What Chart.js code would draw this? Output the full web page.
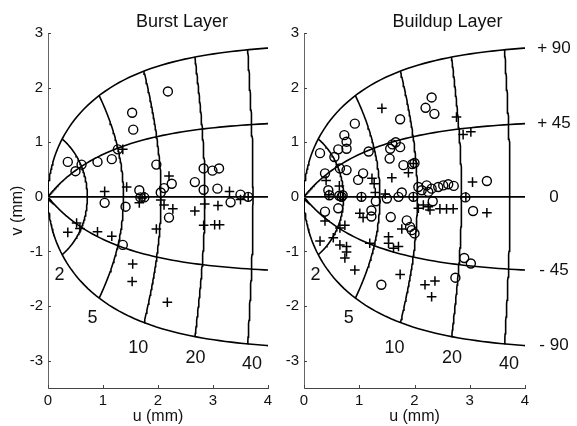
<!DOCTYPE html>
<html>
<head>
<meta charset="utf-8">
<style>
  html, body { margin: 0; padding: 0; background: #fff; }
  #wrap { position: relative; width: 577px; height: 426px; }
  canvas { position: absolute; top: 0; }
</style>
</head>
<body>
<div id="wrap">
  <canvas id="burstChart" width="290" height="426" style="left:0px"></canvas>
  <canvas id="buildupChart" width="322" height="426" style="left:255px"></canvas>
</div>

<script src="https://cdn.jsdelivr.net/npm/chart.js"></script>
<script>
  // axis ticks
  const xTicks = [0, 1, 2, 3, 4];
  const yTicks = [-3, -2, -1, 0, 1, 2, 3];

  // collicular map grid: saccade amplitude (deg) and direction (deg)
  const amplitudes = [2, 5, 10, 20, 40];
  const directions = [-90, -45, 0, 45, 90];
  const ampLabels = ['2', '5', '10', '20', '40'];
  const ampLabelPos = [[0.21, -1.43], [0.81, -2.22], [1.64, -2.76], [2.68, -2.96], [3.71, -3.06]];
  const dirLabels = ['- 90', '- 45', '0', '+ 45', '+ 90'];

  // Burst layer sites [u, v] (mm)
  const burstCircles = [
    [2.18, 1.93], [1.53, 1.54], [1.55, 1.23],
    [0.36, 0.64], [0.50, 0.47], [0.61, 0.59], [0.90, 0.64], [1.16, 0.69], [1.27, 0.87],
    [1.97, 0.59], [2.11, 0.16], [2.25, 0.24], [2.05, 0.08], [1.66, 0.12], [1.68, -0.01], [1.75, -0.01],
    [1.03, -0.11], [1.41, -0.18], [2.20, -0.38],
    [2.67, 0.27], [2.83, 0.52], [2.99, 0.48], [3.11, 0.52], [2.83, 0.13], [3.08, 0.15],
    [3.32, -0.10], [3.50, 0.04], [3.64, 0.00],
    [1.36, -0.88]
  ];
  const burstCrosses = [
    [1.36, 0.87], [2.20, 0.38], [1.03, 0.10], [1.43, 0.18], [1.66, -0.11], [1.71, -0.02], [1.76, 0.00],
    [2.05, -0.06], [2.11, -0.15], [2.27, -0.22], [1.97, -0.59], [2.67, -0.26], [2.85, -0.13], [3.09, -0.16],
    [2.83, -0.52], [3.03, -0.51], [3.12, -0.51], [3.30, 0.10], [3.50, -0.05], [3.64, 0.00],
    [0.52, -0.48], [0.36, -0.65], [0.58, -0.58], [0.90, -0.64], [1.16, -0.72],
    [1.54, -1.23], [1.53, -1.55], [2.17, -1.93]
  ];

  // Buildup layer sites [u, v] (mm)
  const buildupCircles = [
    [1.74, 1.42], [2.31, 1.82], [2.20, 1.63], [2.36, 1.52],
    [0.92, 1.34], [0.73, 1.13], [0.77, 1.01], [0.77, 0.88], [0.62, 0.87], [0.29, 0.80], [0.55, 0.73], [1.17, 0.83],
    [0.65, 0.52], [0.77, 0.49], [0.38, 0.43], [1.07, 0.43], [0.98, 0.31],
    [0.44, 0.12], [0.46, 0.03], [0.64, 0.02], [0.68, 0.00], [0.70, 0.03], [1.04, 0.00], [1.50, -0.03],
    [1.71, 0.00], [1.77, 0.08], [1.98, 0.00],
    [1.56, 0.88], [1.60, 0.96], [1.66, 1.00], [1.74, 0.91], [1.55, 0.70], [1.80, 0.58], [1.96, 0.60], [2.00, 0.62],
    [2.07, 0.18], [2.13, 0.12], [2.22, 0.21], [2.25, 0.09], [2.31, 0.15], [2.43, 0.18], [2.52, 0.21], [2.61, 0.23], [2.71, 0.20],
    [2.92, -0.01], [3.31, 0.29], [3.06, -0.26], [2.33, -0.08],
    [0.38, -0.27], [0.62, -0.21], [1.22, -0.25], [1.22, -0.36], [1.30, -0.08], [1.57, -0.37],
    [1.86, -0.43], [1.92, -0.55], [1.95, -0.61], [2.00, -0.67],
    [1.40, -1.61], [2.74, -1.48], [2.90, -1.12], [3.02, -1.22]
  ];
  const buildupCrosses = [
    [1.41, 1.62], [2.76, 1.46], [2.88, 1.14], [3.02, 1.19],
    [0.40, 0.30], [0.64, 0.20], [1.23, 0.34], [1.27, 0.24], [1.29, 0.08], [1.47, 0.05],
    [1.59, 0.35], [1.89, 0.44], [1.98, 0.61], [1.98, 0.00], [1.04, 0.00], [0.66, 0.00], [0.70, 0.00], [0.45, 0.04],
    [3.05, 0.27], [3.31, -0.29], [2.93, 0.00],
    [2.07, -0.21], [2.16, -0.15], [2.25, -0.18], [2.28, -0.24], [2.46, -0.22], [2.58, -0.22], [2.70, -0.22],
    [0.38, -0.44], [0.74, -0.52], [0.65, -0.57], [0.29, -0.81], [0.53, -0.75], [0.65, -0.88], [0.77, -0.91],
    [0.77, -1.01], [0.74, -1.12], [0.92, -1.34], [1.19, -0.85],
    [1.01, -0.30], [1.07, -0.38], [1.77, -0.59], [1.53, -0.73], [1.53, -0.85], [1.71, -0.91], [1.62, -0.94],
    [1.74, -1.42], [2.19, -1.61], [2.37, -1.54], [2.31, -1.83]
  ];

  const FONT = "'Liberation Sans', Arial, sans-serif";

  // log-polar collicular mapping (Ottes et al.)
  const A = 3, BU = 1.4, BV = 1.8;
  function toUV(R, phiDeg) {
    const p = phiDeg * Math.PI / 180;
    const x = R * Math.cos(p) + A, y = R * Math.sin(p);
    return { x: BU * Math.log(Math.sqrt(x * x + y * y) / A), y: BV * Math.atan2(y, x) };
  }

  function lineSet(pts) {
    return {
      data: pts, showLine: true, pointRadius: 0, borderColor: '#000',
      borderWidth: 1.6, tension: 0, fill: false
    };
  }

  function gridSets() {
    const sets = [];
    amplitudes.forEach(R => {
      const pts = [];
      for (let p = -90; p <= 90; p += 2) pts.push(toUV(R, p));
      sets.push(lineSet(pts));
    });
    directions.forEach(d => {
      const pts = [toUV(0, d)];
      for (let k = 0; k < 200; k++) {
        const pt = toUV(0.01 * Math.pow(1.08, k), d);
        pts.push(pt);
        if (pt.x > 4.2) break;
      }
      sets.push(lineSet(pts));
    });
    return sets;
  }

  // v where a direction line leaves the plot at u = 4
  function edgeV(d) {
    let lo = 0, hi = 1000;
    for (let i = 0; i < 60; i++) {
      const mid = (lo + hi) / 2;
      if (toUV(mid, d).x < 4) lo = mid; else hi = mid;
    }
    return toUV(lo, d).y;
  }

  const overlay = {
    id: 'overlay',
    afterDraw(chart, args, opts) {
      const { ctx, chartArea, scales: { x, y } } = chart;
      ctx.save();
      // inward tick marks
      ctx.strokeStyle = '#444';
      ctx.lineWidth = 1;
      ctx.beginPath();
      xTicks.forEach(v => {
        const px = Math.round(x.getPixelForValue(v)) + 0.5;
        ctx.moveTo(px, chartArea.bottom); ctx.lineTo(px, chartArea.bottom - 3);
      });
      yTicks.forEach(v => {
        const py = Math.round(y.getPixelForValue(v)) + 0.5;
        ctx.moveTo(chartArea.left, py); ctx.lineTo(chartArea.left + 3, py);
      });
      ctx.stroke();

      ctx.fillStyle = '#111';
      ctx.textAlign = 'center';
      ctx.textBaseline = 'middle';
      ctx.font = '18px ' + FONT;
      ctx.fillText(opts.title, opts.titleX, 22.5);

      ampLabels.forEach((t, i) => {
        ctx.fillText(t, x.getPixelForValue(ampLabelPos[i][0]), y.getPixelForValue(ampLabelPos[i][1]));
      });

      if (opts.dirLabels) {
        ctx.font = '17px ' + FONT;
        directions.forEach((d, i) => {
          ctx.fillText(dirLabels[i], chartArea.right + 29, y.getPixelForValue(edgeV(d)));
        });
      }
      ctx.restore();
    }
  };

  function makeChart(id, circles, crosses, cfg) {
    const ticksFont = { family: FONT, size: 15 };
    return new Chart(document.getElementById(id), {
      type: 'scatter',
      data: {
        datasets: [
          ...gridSets(),
          {
            data: circles.map(([u, v]) => ({ x: u, y: v })),
            pointStyle: 'circle', pointRadius: 4.5, borderWidth: 1.4,
            borderColor: '#000', backgroundColor: 'rgba(0,0,0,0)'
          },
          {
            data: crosses.map(([u, v]) => ({ x: u, y: v })),
            pointStyle: 'cross', pointRadius: 4.8, borderWidth: 1.5,
            borderColor: '#000', backgroundColor: '#000'
          }
        ]
      },
      options: {
        responsive: false,
        animation: false,
        events: [],
        layout: { padding: { top: 33, right: cfg.padRight, bottom: 0, left: 0 } },
        plugins: {
          legend: { display: false },
          tooltip: { enabled: false },
          overlay: { title: cfg.title, titleX: cfg.titleX, dirLabels: cfg.dirLabels }
        },
        scales: {
          x: {
            type: 'linear', min: 0, max: 4,
            grid: { display: false, drawTicks: false },
            border: { display: true, color: '#444', width: 1 },
            ticks: { font: ticksFont, color: '#111', padding: 4 },
            title: { display: true, text: 'u (mm)', font: { family: FONT, size: 16 }, color: '#111', padding: { top: 0, bottom: 0 } },
            afterBuildTicks: s => { s.ticks = xTicks.map(v => ({ value: v })); },
            afterFit: s => { s.height = 38; }
          },
          y: {
            type: 'linear', min: -3.5, max: 3,
            grid: { display: false, drawTicks: false },
            border: { display: true, color: '#666', width: 1 },
            ticks: { font: ticksFont, color: '#111', padding: 5 },
            title: { display: cfg.yTitle, text: 'v (mm)', font: { family: FONT, size: 16 }, color: '#111', padding: { top: 8, bottom: 0 } },
            afterBuildTicks: s => { s.ticks = yTicks.map(v => ({ value: v })); },
            afterFit: s => { s.width = cfg.yWidth; }
          }
        }
      },
      plugins: [overlay]
    });
  }

  makeChart('burstChart', burstCircles, burstCrosses,
    { title: 'Burst Layer', titleX: 182, padRight: 22, yWidth: 48, yTitle: true, dirLabels: false });
  makeChart('buildupChart', buildupCircles, buildupCrosses,
    { title: 'Buildup Layer', titleX: 192.5, padRight: 52, yWidth: 49, yTitle: false, dirLabels: true });
</script>
</body>
</html>
